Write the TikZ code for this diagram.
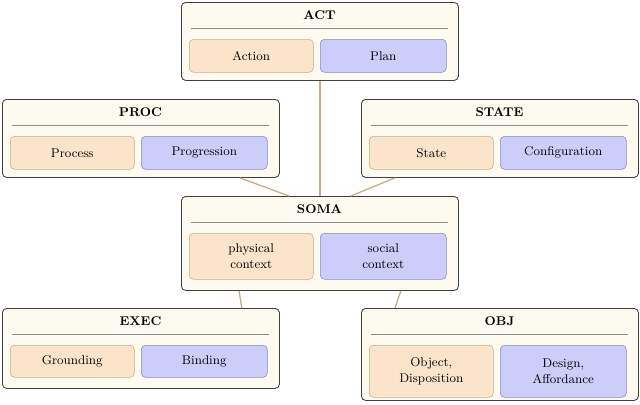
\documentclass[tikz,border=0pt]{standalone}
\usetikzlibrary{calc}
\begin{document}
\begin{tikzpicture}[x=0.025cm,y=-0.025cm,
 outer/.style={draw=black!75,fill={rgb,255:red,253;green,250;blue,240},rounded corners=3pt,line width=0.6pt},
 ora/.style={draw={rgb,255:red,205;green,170;blue,135},fill={rgb,255:red,252;green,228;blue,202},rounded corners=3pt,align=center,font=\small},
 pur/.style={draw={rgb,255:red,135;green,135;blue,200},fill={rgb,255:red,205;green,205;blue,250},rounded corners=3pt,align=center,font=\small},
 ttl/.style={font=\small\bfseries},
 rule/.style={draw=black!45,line width=0.4pt},
 con/.style={draw={rgb,255:red,200;green,170;blue,138},line width=0.9pt}]
\useasboundingbox (0,0) rectangle (640,404);
\newcommand\mybox[8]{%
 \node[outer,minimum width=277*0.025cm,minimum height=#4*0.025cm,anchor=north west] (#1) at (#2,#3) {};
 \node[ttl] (#1t) at (#2+138.5,#3+13) {#5};
 \draw[rule] (#2+10,#3+26) -- (#2+267,#3+26);
 \node[ora,minimum width=124*0.025cm,minimum height=#8*0.025cm,anchor=north west] (#1a) at (#2+8,#3+37+0) {#6};
 \node[pur,minimum width=126*0.025cm,minimum height=#8*0.025cm,anchor=north west] (#1b) at (#2+139,#3+37) {#7};
}
\mybox{act}{181}{2}{78}{ACT}{Action}{Plan}{33}
\mybox{proc}{2}{99}{78}{PROC}{Process}{Progression}{33}
\mybox{state}{361}{99}{78}{STATE}{State}{Configuration}{33}
\mybox{soma}{181}{196}{94}{SOMA}{physical\\context}{social\\context}{46}
\mybox{exec}{2}{308}{80}{EXEC}{Grounding}{Binding}{32}
\mybox{obj}{361}{308}{92}{OBJ}{Object,\\Disposition}{Design,\\Affordance}{52}
\draw[con] (act.south) -- (soma.north);
\draw[con] ([xshift=-1cm]proc.south east) -- ([xshift=2.7cm]soma.north west);
\draw[con] ([xshift=0.85cm]state.south west) -- ([xshift=-2.7cm]soma.north east);
\draw[con] ([xshift=-0.95cm]exec.north east) -- ([xshift=1.45cm]soma.south west);
\draw[con] ([xshift=0.85cm]obj.north west) -- ([xshift=-1.45cm]soma.south east);
\end{tikzpicture}
\end{document}
